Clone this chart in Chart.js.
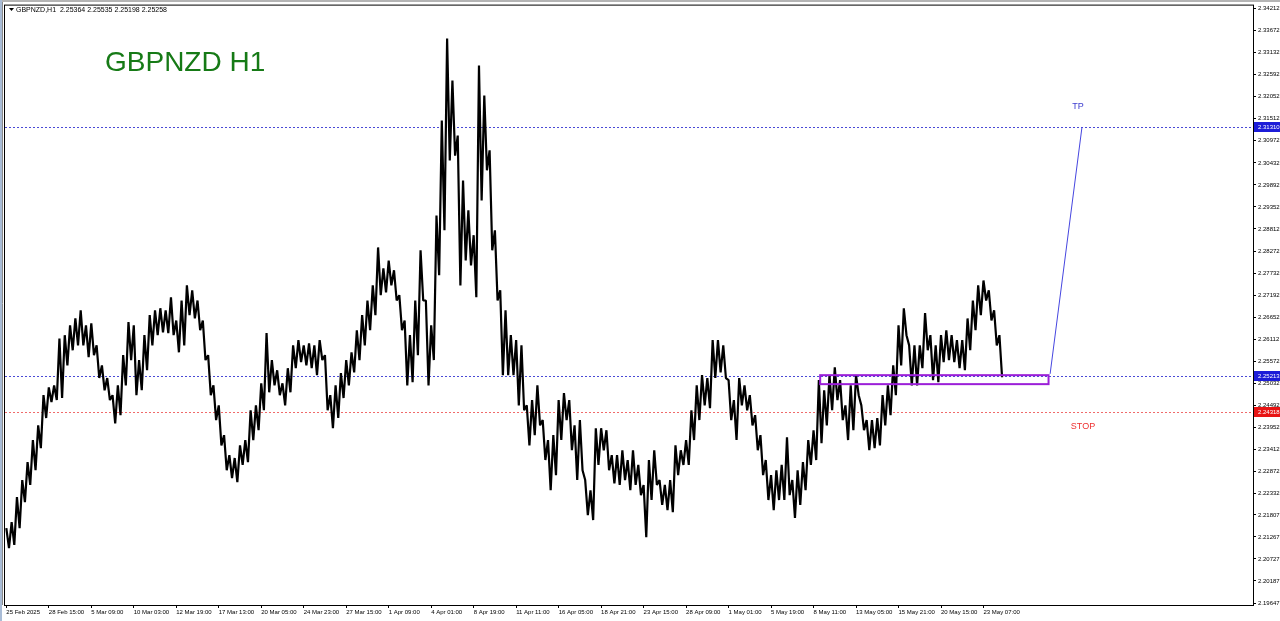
<!DOCTYPE html>
<html><head><meta charset="utf-8">
<script src="https://cdn.jsdelivr.net/npm/chart.js@4.4.1/dist/chart.umd.min.js"></script>
<style>html,body{margin:0;padding:0;background:#fff;overflow:hidden}canvas{display:block}</style>
</head><body>
<canvas id="c" width="1280" height="621"></canvas>
<script>
const SYMBOL = 'GBPNZD,H1';
const TITLE = 'GBPNZD H1';
const HEADER_OHLC = [2.25364, 2.25535, 2.25198, 2.25258];
const TIME_LABELS = ['25 Feb 2025','28 Feb 15:00','5 Mar 09:00','10 Mar 03:00','12 Mar 19:00','17 Mar 13:00','20 Mar 05:00','24 Mar 23:00','27 Mar 15:00','1 Apr 09:00','4 Apr 01:00','8 Apr 19:00','11 Apr 11:00','16 Apr 05:00','18 Apr 21:00','23 Apr 15:00','28 Apr 09:00','1 May 01:00','5 May 19:00','8 May 11:00','13 May 05:00','15 May 21:00','20 May 15:00','23 May 07:00'];
const BINS_PER_LABEL = 8;
const TOTAL_BINS = 235;
const HIGHS = [
2.2148,2.2163,2.2224,2.2266,2.2310,2.2364,2.2400,2.2474,2.2493,2.2498,
2.2613,2.2621,2.2645,2.2662,2.2682,2.2645,2.2650,2.2596,2.2547,2.2516,
2.2474,2.2498,2.2572,2.2653,2.2645,2.2560,2.2621,2.2670,2.2682,2.2687,
2.2682,2.2714,2.2657,2.2706,2.2743,2.2731,2.2706,2.2657,2.2572,2.2498,
2.2449,2.2376,2.2327,2.2320,2.2351,2.2364,2.2437,2.2449,2.2503,2.2626,
2.2560,2.2535,2.2503,2.2540,2.2596,2.2609,2.2596,2.2601,2.2596,2.2609,
2.2572,2.2474,2.2498,2.2528,2.2560,2.2579,2.2633,2.2670,2.2706,2.2743,
2.2836,2.2785,2.2804,2.2780,2.2719,2.2657,2.2621,2.2706,2.2829,2.2706,
2.2645,2.2914,2.3147,2.3348,2.3245,2.3110,2.3000,2.2927,2.2866,2.3282,
2.3208,2.3074,2.2878,2.2731,2.2682,2.2621,2.2609,2.2596,2.2449,2.2462,
2.2498,2.2413,2.2364,2.2376,2.2462,2.2479,2.2462,2.2400,2.2413,2.2266,
2.2241,2.2393,2.2393,2.2388,2.2327,2.2327,2.2339,2.2315,2.2339,2.2303,
2.2254,2.2315,2.2339,2.2266,2.2254,2.2266,2.2351,2.2339,2.2364,2.2437,
2.2498,2.2523,2.2516,2.2609,2.2609,2.2596,2.2511,2.2462,2.2516,2.2498,
2.2474,2.2425,2.2376,2.2315,2.2278,2.2290,2.2303,2.2371,2.2266,2.2290,
2.2310,2.2364,2.2388,2.2511,2.2486,2.2523,2.2542,2.2511,2.2449,2.2498,
2.2523,2.2449,2.2413,2.2413,2.2418,2.2474,2.2498,2.2547,2.2645,2.2687,
2.2596,2.2596,2.2596,2.2675,2.2621,2.2596,2.2621,2.2633,2.2621,2.2609,
2.2609,2.2662,2.2706,2.2743,2.2755,2.2731,2.2682,2.2621
];
const LOWS = [
2.2099,2.2107,2.2148,2.2212,2.2254,2.2290,2.2344,2.2418,2.2457,2.2462,
2.2467,2.2547,2.2584,2.2596,2.2596,2.2567,2.2572,2.2516,2.2486,2.2462,
2.2405,2.2425,2.2498,2.2560,2.2474,2.2486,2.2535,2.2596,2.2621,2.2628,
2.2626,2.2621,2.2579,2.2596,2.2670,2.2662,2.2633,2.2560,2.2474,2.2413,
2.2351,2.2290,2.2271,2.2261,2.2303,2.2310,2.2364,2.2388,2.2437,2.2481,
2.2498,2.2474,2.2449,2.2481,2.2540,2.2555,2.2547,2.2540,2.2523,2.2560,
2.2437,2.2393,2.2418,2.2467,2.2498,2.2530,2.2560,2.2596,2.2633,2.2670,
2.2719,2.2726,2.2743,2.2706,2.2633,2.2498,2.2506,2.2572,2.2706,2.2498,
2.2560,2.2768,2.2878,2.3049,2.3061,2.2743,2.2804,2.2792,2.2714,2.2951,
2.3025,2.2829,2.2706,2.2523,2.2523,2.2523,2.2449,2.2437,2.2351,2.2376,
2.2400,2.2315,2.2241,2.2278,2.2364,2.2413,2.2339,2.2266,2.2290,2.2180,
2.2168,2.2303,2.2339,2.2290,2.2258,2.2254,2.2266,2.2241,2.2254,2.2229,
2.2126,2.2217,2.2254,2.2205,2.2192,2.2187,2.2278,2.2303,2.2303,2.2364,
2.2413,2.2449,2.2442,2.2516,2.2530,2.2516,2.2413,2.2364,2.2449,2.2437,
2.2400,2.2339,2.2278,2.2217,2.2192,2.2217,2.2217,2.2229,2.2173,2.2205,
2.2241,2.2303,2.2315,2.2356,2.2400,2.2437,2.2462,2.2413,2.2364,2.2388,
2.2474,2.2388,2.2339,2.2344,2.2351,2.2400,2.2425,2.2474,2.2547,2.2621,
2.2498,2.2498,2.2540,2.2584,2.2511,2.2506,2.2555,2.2560,2.2555,2.2540,
2.2535,2.2584,2.2633,2.2670,2.2706,2.2657,2.2596,2.2518
];
const Y_TICKS = [2.34212,2.33672,2.33132,2.32592,2.32052,2.31512,2.30972,2.30432,2.29892,2.29352,2.28812,2.28272,2.27732,2.27192,2.26652,2.26112,2.25572,2.25032,2.24492,2.23952,2.23412,2.22872,2.22332,2.21807,2.21267,2.20727,2.20187,2.19647];
const Y_MIN = 2.19598, Y_MAX = 2.34286;
const TP_PRICE = 2.31310, ENTRY_PRICE = 2.25213, STOP_PRICE = 2.24318;
const ZONE_BINS = [153, 196];
const ZONE_PRICES = [2.2523, 2.2501];
const TP_PATH_BINS = [196.3, 202.3];

const FONT = 'Liberation Sans';
// each 8-hour bin is drawn as two sub-steps: its high, then its low (a dense zig-zag like compressed candles)
const SUB = 2;
const subLabels = Array.from({length: TOTAL_BINS * SUB}, (_, j) => {
  const k = j / (SUB * BINS_PER_LABEL);
  return (Number.isInteger(k) && TIME_LABELS[k]) || '';
});
const zigzag = HIGHS.flatMap((h, i) => [h, LOWS[i]]);
const binToSub = b => b * SUB + (SUB - 1) / 2;

const overlay = {
  id: 'overlay',
  beforeDraw(chart) {
    const {ctx, width, height} = chart;
    ctx.save();
    ctx.fillStyle = '#fff'; ctx.fillRect(0, 0, width, height);
    ctx.fillStyle = '#b4b4b4'; ctx.fillRect(0, 0, width, 2);
    ctx.fillStyle = '#a9bcd6'; ctx.fillRect(0, 0, 2, height);
    ctx.restore();
  },
  beforeDatasetsDraw(chart) {
    const {ctx, chartArea: a, scales: {y}} = chart;
    ctx.save();
    ctx.lineWidth = 1;
    ctx.setLineDash([2, 2]);
    [[TP_PRICE, '#4a4ad6'], [ENTRY_PRICE, '#4a4ad6'], [STOP_PRICE, '#f06a6a']].forEach(([p, col]) => {
      const py = Math.round(y.getPixelForValue(p)) + 0.5;
      ctx.strokeStyle = col;
      ctx.beginPath(); ctx.moveTo(a.left, py); ctx.lineTo(a.right, py); ctx.stroke();
    });
    ctx.restore();
  },
  afterDatasetsDraw(chart) {
    const {ctx, scales: {x, y}} = chart;
    ctx.save();
    const x1 = x.getPixelForValue(binToSub(ZONE_BINS[0])), x2 = x.getPixelForValue(binToSub(ZONE_BINS[1]));
    const y1 = y.getPixelForValue(ZONE_PRICES[0]), y2 = y.getPixelForValue(ZONE_PRICES[1]);
    ctx.strokeStyle = '#9b1fd8'; ctx.lineWidth = 2;
    ctx.strokeRect(x1, y1, x2 - x1, y2 - y1);
    const px1 = x.getPixelForValue(binToSub(TP_PATH_BINS[0])), px2 = x.getPixelForValue(binToSub(TP_PATH_BINS[1]));
    ctx.strokeStyle = '#4646e0'; ctx.lineWidth = 1;
    ctx.beginPath(); ctx.moveTo(px1, y.getPixelForValue(ENTRY_PRICE) - 2); ctx.lineTo(px2, y.getPixelForValue(TP_PRICE)); ctx.stroke();
    ctx.textAlign = 'center'; ctx.textBaseline = 'middle';
    ctx.font = `9px "${FONT}"`;
    ctx.fillStyle = '#3c3cd0';
    ctx.fillText('TP', px2 - 4, y.getPixelForValue(TP_PRICE) - 21);
    ctx.fillStyle = '#ee3030';
    ctx.fillText('STOP', px2 + 1, y.getPixelForValue(STOP_PRICE) + 14);
    ctx.textAlign = 'left'; ctx.textBaseline = 'alphabetic';
    ctx.font = `28px "${FONT}"`;
    ctx.fillStyle = '#167a16';
    ctx.fillText(TITLE, 105, 71);
    ctx.restore();
  },
  afterDraw(chart) {
    const {ctx, chartArea: a, scales: {y}, width} = chart;
    ctx.save();
    ctx.strokeStyle = '#000'; ctx.lineWidth = 1;
    ctx.strokeRect(a.left - 0.5, a.top - 0.5, a.right - a.left + 1, a.bottom - a.top + 1);
    ctx.strokeStyle = '#8a8a8a';
    ctx.beginPath(); ctx.moveTo(2.5, 2); ctx.lineTo(2.5, a.bottom); ctx.stroke();
    ctx.font = `6px "${FONT}"`; ctx.textBaseline = 'middle'; ctx.textAlign = 'left';
    [[TP_PRICE, '#1c1cd8'], [ENTRY_PRICE, '#1c1cd8'], [STOP_PRICE, '#e81414']].forEach(([p, col]) => {
      const py = Math.round(y.getPixelForValue(p));
      ctx.fillStyle = col;
      ctx.fillRect(a.right + 1, py - 5, width - a.right - 1, 10);
      ctx.fillStyle = '#fff';
      ctx.fillText(p.toFixed(5), a.right + 5, py);
    });
    ctx.fillStyle = '#000';
    ctx.beginPath(); ctx.moveTo(9, 8); ctx.lineTo(14, 8); ctx.lineTo(11.5, 11); ctx.closePath(); ctx.fill();
    ctx.font = `7px "${FONT}"`;
    ctx.fillText(SYMBOL + '  ' + HEADER_OHLC.map(v => v.toFixed(5)).join(' '), 16, 10);
    ctx.restore();
  }
};

new Chart(document.getElementById('c'), {
  type: 'line',
  data: {
    labels: subLabels,
    datasets: [
      {data: zigzag, borderColor: '#000', borderWidth: 2.2, borderJoinStyle: 'bevel', pointRadius: 0, fill: false, tension: 0}
    ]
  },
  options: {
    responsive: false,
    animation: false,
    devicePixelRatio: 1,
    layout: {padding: {left: 5, top: 5, right: 0, bottom: 0}},
    plugins: {legend: {display: false}, tooltip: {enabled: false}},
    scales: {
      x: {
        type: 'category',
        offset: true,
        afterFit: s => { s.height = 16; },
        ticks: {autoSkip: false, maxRotation: 0, minRotation: 0, align: 'start', padding: 1,
          font: {family: FONT, size: 6}, color: '#000', callback: (v, i) => subLabels[i]},
        grid: {drawOnChartArea: false, tickLength: 3, color: c => subLabels[c.index] ? '#000' : 'rgba(0,0,0,0)'},
        border: {color: '#000'}
      },
      y: {
        position: 'right',
        min: Y_MIN, max: Y_MAX,
        afterBuildTicks: s => { s.ticks = Y_TICKS.map(v => ({value: v})); },
        afterFit: s => { s.width = 27; },
        ticks: {autoSkip: false, padding: 2, font: {family: FONT, size: 6}, color: '#000', callback: v => Number(v).toFixed(5)},
        grid: {drawOnChartArea: false, tickLength: 3, color: '#000'},
        border: {color: '#000'}
      }
    }
  },
  plugins: [overlay]
});
</script>
</body></html>
